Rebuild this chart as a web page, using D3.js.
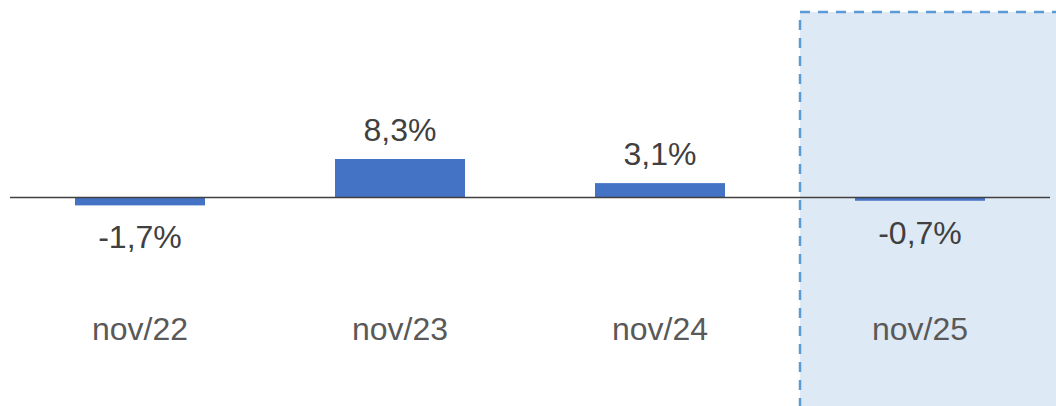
<!DOCTYPE html>
<html lang="pt">
<head>
  <meta charset="UTF-8">
  <title>Variação nov</title>
  <script src="https://d3js.org/d3.v7.min.js"></script>
  <style>
    body { margin: 0; background: #fff; font-family: "Liberation Sans", Arial, sans-serif; }
  </style>
</head>
<body>
  <div id="chart"></div>
  <script>
    // Data
    const categories = ['nov/22', 'nov/23', 'nov/24', 'nov/25'];
    const values = [-1.7, 8.3, 3.1, -0.7];
    const labels = ['-1,7%', '8,3%', '3,1%', '-0,7%'];
    const highlighted = 'nov/25';

    const width = 1056, height = 406;

    const svg = d3.select('#chart')
      .append('svg')
      .attr('width', width)
      .attr('height', height);

    // Scales
    const x = d3.scaleBand()
      .domain(categories)
      .range([10, 1050])
      .paddingInner(0.5)
      .paddingOuter(0.25);

    const y = d3.scaleLinear()
      .domain([0, 8.3])
      .range([197.5, 159]);

    // Highlight box for the last period
    svg.append('rect')
      .attr('x', x(highlighted) - 55)
      .attr('y', 12)
      .attr('width', 300)
      .attr('height', 420)
      .attr('fill', '#dee9f6')
      .attr('stroke', '#5b9bd5')
      .attr('stroke-width', 2.5)
      .attr('stroke-dasharray', '10,8');

    // Bars
    svg.selectAll('rect.bar')
      .data(values)
      .enter().append('rect')
      .attr('class', 'bar')
      .attr('x', (d, i) => x(categories[i]))
      .attr('y', d => Math.min(y(d), y(0)))
      .attr('width', x.bandwidth())
      .attr('height', d => Math.abs(y(d) - y(0)))
      .attr('fill', '#4472c4');

    // Zero line
    svg.append('line')
      .attr('x1', 10).attr('x2', 1050)
      .attr('y1', y(0)).attr('y2', y(0))
      .attr('stroke', '#404040')
      .attr('stroke-width', 1.5);

    // Value labels
    svg.selectAll('text.val')
      .data(values)
      .enter().append('text')
      .attr('class', 'val')
      .attr('x', (d, i) => x(categories[i]) + x.bandwidth() / 2)
      .attr('y', d => d >= 0 ? y(d) - 18 : y(d) + 43)
      .attr('text-anchor', 'middle')
      .attr('font-size', 32)
      .attr('fill', '#404040')
      .text((d, i) => labels[i]);

    // Category labels
    svg.selectAll('text.cat')
      .data(categories)
      .enter().append('text')
      .attr('class', 'cat')
      .attr('x', d => x(d) + x.bandwidth() / 2)
      .attr('y', 340)
      .attr('text-anchor', 'middle')
      .attr('font-size', 32)
      .attr('fill', '#595959')
      .text(d => d);
  </script>
</body>
</html>
